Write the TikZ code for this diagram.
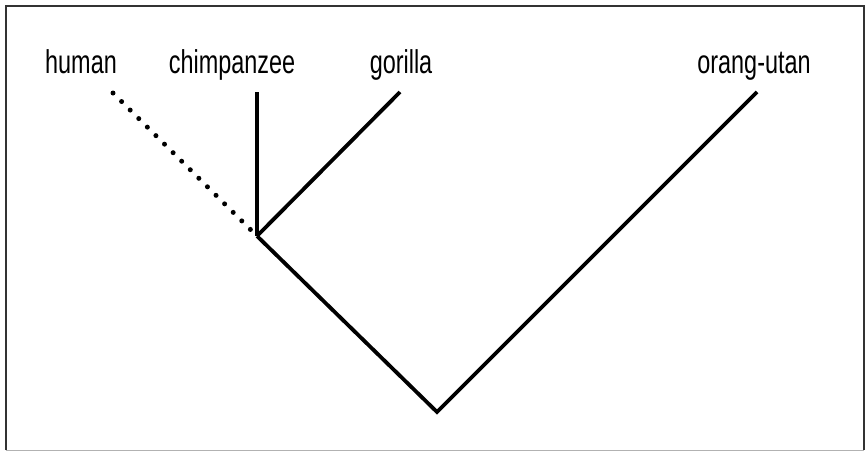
\documentclass[tikz,border=0pt]{standalone}
\usepackage{fontspec}
\setmainfont{Liberation Sans}
\begin{document}
\begin{tikzpicture}[x=1pt,y=-1pt,
  branch/.style={line width=3.8pt,black},
  dotbranch/.style={line width=5pt,line cap=round,dash pattern=on 0pt off 12.1pt},
  lab/.style={anchor=base,inner sep=0pt,font=\fontsize{33}{33}\selectfont}]
\useasboundingbox (0,0) rectangle (866,451);
\draw[line width=2pt,black!80] (6,450) -- (6,6) -- (864,6) -- (864,450);
\draw[line width=1pt,black!30] (6,450) -- (864,450);
\coordinate (hc) at (257,236);
\coordinate (root) at (437,412);
\coordinate (th) at (113,93);
\coordinate (tc) at (257,92);
\coordinate (tg) at (400,92);
\coordinate (to) at (757,92);
\node[lab] (human) at (81,73) {\scalebox{0.71}[1]{human}};
\node[lab] (chimp) at (232,73) {\scalebox{0.71}[1]{chimpanzee}};
\node[lab] (gorilla) at (401,73) {\scalebox{0.71}[1]{gorilla}};
\node[lab] (orang) at (754,73) {\scalebox{0.71}[1]{orang-utan}};
\draw[dotbranch] (th) -- (hc);
\draw[branch] (tc) -- (hc);
\draw[branch] (tg) -- (hc);
\draw[branch,line join=miter] (hc) -- (root) -- (to);
\end{tikzpicture}
\end{document}
